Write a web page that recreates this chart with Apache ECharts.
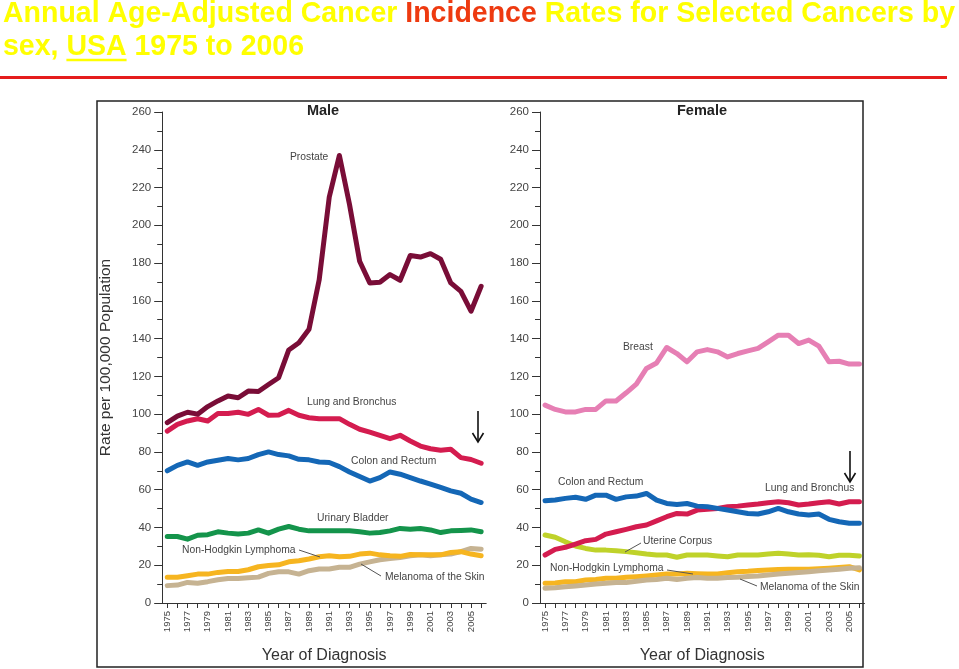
<!DOCTYPE html>
<html><head><meta charset="utf-8">
<script src="https://cdn.jsdelivr.net/npm/echarts@6/dist/echarts.min.js"></script>
<style>html,body{margin:0;padding:0;background:#fff;}#c{width:959px;height:669px;}</style>
</head><body><div id="c"></div>
<script>
var years = ['1975','1976','1977','1978','1979','1980','1981','1982','1983','1984','1985','1986','1987','1988','1989','1990','1991','1992','1993','1994','1995','1996','1997','1998','1999','2000','2001','2002','2003','2004','2005','2006'];
var yTicks = [0,20,40,60,80,100,120,140,160,180,200,220,240,260];

// Male
var maleProstate = [95.5,99,101,100,104,107,109.6,108.7,112.2,112,115.7,119.3,134,137.8,145,171,215,237,211,181,169.5,169.8,173.9,170.9,184,183.2,185,182,169.5,165,154.5,167.7];
var maleLung = [91,94.6,96.4,97.6,96.4,100.4,100.4,101,99.9,102.5,99.4,99.6,102,99.4,98.1,97.6,97.6,97.6,94.6,92,90.5,88.8,87,88.8,85.8,83.1,81.7,80.9,81.4,77,76,74];
var maleColon = [70,72.9,74.7,72.9,74.7,75.6,76.5,75.8,76.5,78.6,80,78.6,77.9,76.1,75.8,74.7,74.4,72.2,69.4,67,64.6,66.4,69.4,68.2,66.4,64.6,63,61.2,59.4,58.1,55,53.2];
var maleBladder = [35.2,35.2,33.8,35.9,36.2,37.7,37,36.6,37,38.7,37,39.1,40.5,39.1,38.2,38.2,38.2,38.2,38.2,37.7,37,37.3,38.2,39.5,39.1,39.5,38.7,37.3,38.2,38.4,38.7,37.7];
var maleNHL = [13.6,13.6,14.4,15.3,15.3,16.2,16.7,16.7,17.6,19.2,19.8,20.2,21.8,22.4,23.3,24.5,25,24.5,24.7,25.9,26.4,25.5,25,24.7,25.7,25.5,25.5,25.5,26.8,27.2,25.9,25];
var maleMelanoma = [9.2,9.5,10.9,10.5,11.3,12.3,13,13,13.4,13.7,15.7,16.5,16.5,15.3,17.1,18,18,18.9,18.9,20.6,21.8,22.9,23.6,24.1,25,25.5,25,25.5,25.9,27.2,28.9,28.5];

// Female
var femBreast = [104.8,102.5,101.2,101.2,102.5,102.5,107,107,111.3,115.9,124.2,127.1,135.3,132.1,127.7,133,134.2,133,130.3,132.1,133.5,134.8,138.3,141.8,141.8,137.4,139.2,136,127.7,128,126.5,126.5];
var femColon = [54.1,54.5,55.4,56,54.9,57.1,57.1,54.9,56.2,56.6,58,54.5,52.7,52.2,52.7,51.3,51,50.1,49.2,48.3,47.4,47.1,48.3,50.1,48.3,47.1,46.6,47.1,44.3,43,42.2,42.2];
var femLung = [25.4,28.4,29.5,31.2,33,33.7,36.5,37.7,39,40.4,41.3,43.5,45.7,47.4,47.1,49.2,49.6,50.1,51,51.3,51.9,52.4,53.1,53.6,53.1,51.9,52.4,53.1,53.6,52.4,53.6,53.6];
var femUterine = [36,34.8,32.4,30.2,28.9,28,28,27.7,27.2,26.6,25.9,25.4,25.4,24.2,25.4,25.4,25.4,24.9,24.5,25.4,25.4,25.4,25.9,26.3,25.9,25.4,25.5,25.3,24.5,25.3,25.3,24.9];
var femNHL = [10.4,10.6,11.3,11.3,12.2,12.5,13.1,13.1,13.6,13.9,14.3,14.8,15.4,15.4,15.7,15.5,15.3,15.4,16,16.6,16.8,17.2,17.5,17.7,17.9,17.9,17.9,18.1,18.4,18.8,19.2,17.5];
var femMelanoma = [7.8,8.1,8.6,9,9.5,10.1,10.4,10.8,10.8,11.5,12.2,12.5,13.1,12.5,13.1,13.5,13.1,13.1,13.5,13.6,14,14.3,14.8,15.4,15.7,16.1,16.6,17.1,17.5,17.9,18.4,18.7];

var C = {
  prostate:'#790d37', lung:'#d41c4f', colon:'#1467b6', bladder:'#14944b',
  nhl:'#f6b520', melanoma:'#c6b392', breast:'#e67fb4', uterine:'#bfd22a'
};

var chart = echarts.init(document.getElementById('c'), null, {renderer:'canvas'});
var TF = 'Liberation Sans';

function yAxis(gi, withName){
  return {
    type:'value', gridIndex:gi, min:0, max:260, interval:20,
    axisLine:{show:true, lineStyle:{color:'#333', width:1}},
    axisTick:{show:true, length:8, lineStyle:{color:'#333'}},
    minorTick:{show:true, splitNumber:2, length:5, lineStyle:{color:'#333'}},
    splitLine:{show:false},
    axisLabel:{color:'#444', fontSize:11.5, fontFamily:TF, margin:11},
    name: withName ? 'Rate per 100,000 Population' : '',
    nameLocation:'middle', nameGap:48,
    nameTextStyle:{color:'#333', fontSize:15.5, fontFamily:TF}
  };
}
function xAxis(gi){
  return {
    type:'category', gridIndex:gi, data:years, boundaryGap:true,
    axisLine:{show:true, lineStyle:{color:'#333', width:1}},
    axisTick:{show:true, alignWithLabel:true, interval:0, length:5, lineStyle:{color:'#333'}},
    axisLabel:{interval:1, rotate:90, color:'#444', fontSize:9.5, fontFamily:TF, margin:8},
    name:'Year of Diagnosis', nameLocation:'middle', nameGap:45,
    nameTextStyle:{color:'#333', fontSize:16, fontFamily:TF}
  };
}
function ser(name, data, color, gi){
  return {type:'line', name:name, xAxisIndex:gi, yAxisIndex:gi, data:data, symbol:'none',
    lineStyle:{color:color, width:5, cap:'round', join:'round'}, silent:true, animation:false};
}
function lbl(text, x, y, opt){
  opt = opt||{};
  return {type:'text', x:x, y:y, silent:true, z:50,
    style:{text:text, fill:opt.fill||'#444', font:(opt.font||('10.3px "'+TF+'"')), align:opt.align||'left', verticalAlign:'middle'}};
}
function seg(x1,y1,x2,y2,color,w){
  return {type:'line', silent:true, z:50, shape:{x1:x1,y1:y1,x2:x2,y2:y2}, style:{stroke:color||'#555', lineWidth:w||1}};
}
function arrow(x, y1, y2){
  return [seg(x,y1,x,y2,'#111',1.6),
    {type:'polyline', silent:true, z:50, shape:{points:[[x-5.5,y2-9],[x,y2],[x+5.5,y2-9]]}, style:{stroke:'#111', lineWidth:1.6, fill:null}}];
}

// title: condensed bold sans, fitted to the reference line width
var titleLine1a = 'Annual Age-Adjusted Cancer ', titleWord = 'Incidence', titleLine1b = ' Rates for Selected Cancers by';
var titleLine2a = 'sex, ', titleUSA = 'USA', titleLine2b = ' 1975 to 2006';
var titleFont = 'bold 30px "' + TF + '"';
var mctx = document.createElement('canvas').getContext('2d');
mctx.font = titleFont;
var w1 = mctx.measureText(titleLine1a + titleWord + titleLine1b).width;
var sx = 952 / w1;
var usaX = 3 + mctx.measureText(titleLine2a).width * sx;
var usaW = mctx.measureText(titleUSA).width * sx;

var graphics = [
  {type:'text', x:3, y:14, scaleX:sx, silent:true, style:{
    text:'{y|' + titleLine1a + '}{r|' + titleWord + '}{y|' + titleLine1b + '}',
    verticalAlign:'middle', align:'left',
    rich:{
      y:{fill:'#ffff00', fontSize:30, fontWeight:'bold', fontFamily:TF},
      r:{fill:'#ee3a10', fontSize:30, fontWeight:'bold', fontFamily:TF}
    }}},
  {type:'text', x:3, y:47, scaleX:sx, silent:true, style:{text:titleLine2a + titleUSA + titleLine2b, fill:'#ffff00', font:titleFont, align:'left', verticalAlign:'middle'}},
  seg(usaX, 60, usaX + usaW, 60, '#ffff00', 2.5),
  {type:'rect', silent:true, shape:{x:0, y:76, width:947, height:3}, style:{fill:'#e51c1c'}},
  {type:'rect', silent:true, shape:{x:97, y:101, width:766, height:566}, style:{fill:'none', stroke:'#222', lineWidth:1.5}},
  lbl('Male', 323, 111, {align:'center', font:'bold 14.5px "'+TF+'"', fill:'#222'}),
  lbl('Female', 702, 111, {align:'center', font:'bold 14.5px "'+TF+'"', fill:'#222'}),
  // male annotations
  lbl('Prostate', 290, 157),
  lbl('Lung and Bronchus', 307, 402),
  lbl('Colon and Rectum', 351, 461),
  lbl('Urinary Bladder', 317, 518),
  lbl('Non-Hodgkin Lymphoma', 182, 550),
  seg(299,550,320,557),
  lbl('Melanoma of the Skin', 385, 577),
  seg(381,576,361,564),
  // female annotations
  lbl('Breast', 623, 347),
  lbl('Colon and Rectum', 558, 482),
  lbl('Lung and Bronchus', 765, 488),
  lbl('Uterine Corpus', 643, 541),
  seg(641,543,625,552),
  lbl('Non-Hodgkin Lymphoma', 550, 568),
  seg(667,570,693,574),
  lbl('Melanoma of the Skin', 760, 587),
  seg(757,586,740,579)
].concat(arrow(478, 411, 442)).concat(arrow(850, 451, 482));

chart.setOption({
  animation:false,
  backgroundColor:'#ffffff',
  grid:[
    {left:162.2, top:112, width:324, height:491, containLabel:false},
    {left:540, top:112, width:324.5, height:491, containLabel:false}
  ],
  xAxis:[xAxis(0), xAxis(1)],
  yAxis:[yAxis(0,true), yAxis(1,false)],
  series:[
    ser('Melanoma of the Skin', maleMelanoma, C.melanoma, 0),
    ser('Non-Hodgkin Lymphoma', maleNHL, C.nhl, 0),
    ser('Urinary Bladder', maleBladder, C.bladder, 0),
    ser('Colon and Rectum', maleColon, C.colon, 0),
    ser('Lung and Bronchus', maleLung, C.lung, 0),
    ser('Prostate', maleProstate, C.prostate, 0),
    ser('Non-Hodgkin Lymphoma', femNHL, C.nhl, 1),
    ser('Melanoma of the Skin', femMelanoma, C.melanoma, 1),
    ser('Uterine Corpus', femUterine, C.uterine, 1),
    ser('Lung and Bronchus', femLung, C.lung, 1),
    ser('Colon and Rectum', femColon, C.colon, 1),
    ser('Breast', femBreast, C.breast, 1)
  ],
  graphic:graphics
});
</script></body></html>
